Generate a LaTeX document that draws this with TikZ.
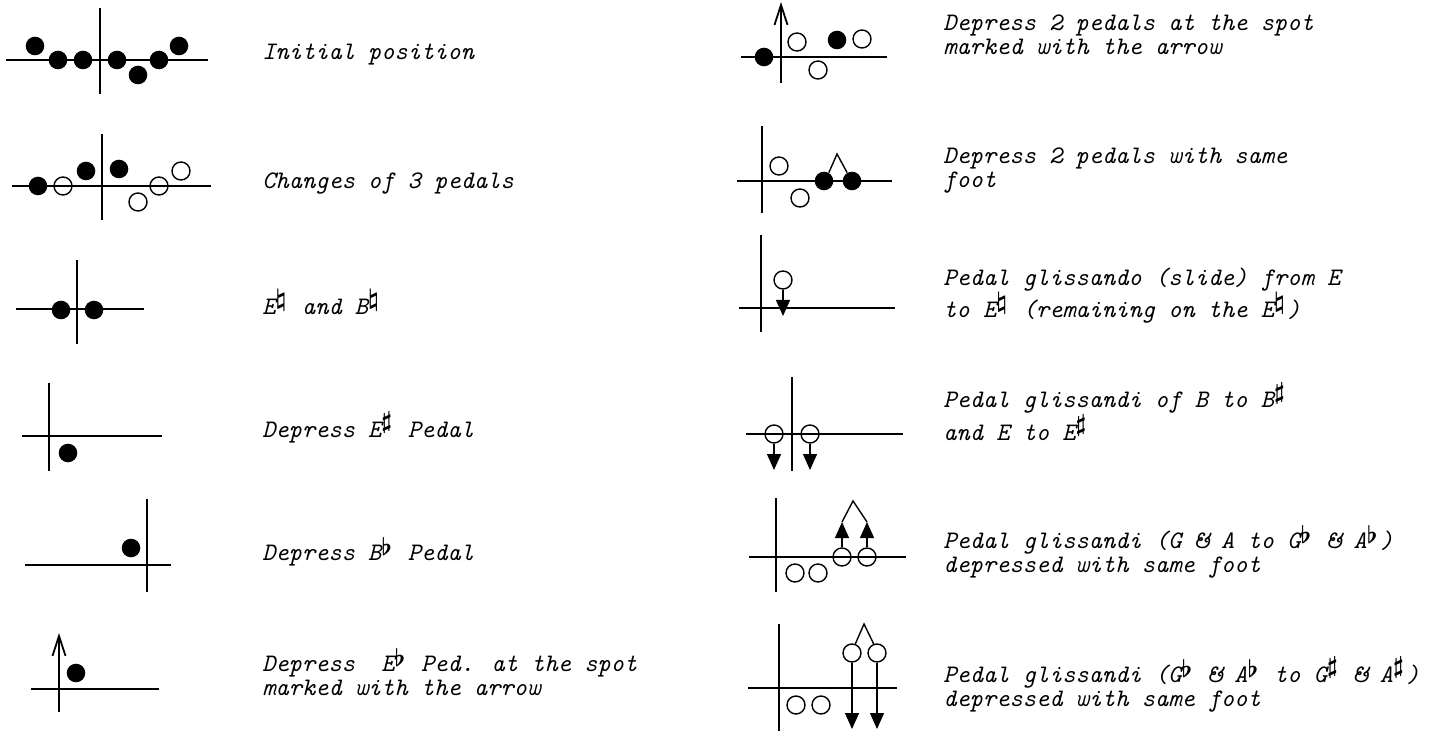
\documentclass[tikz,border=0pt]{standalone}
\usepackage{fontspec}
\usetikzlibrary{arrows.meta}
\newcommand\pacc[2]{\makebox[0.525em][l]{\raisebox{#2}{\fontsize{12}{12}\selectfont\boldmath$#1$}}}
\newcommand\pflat{\pacc{\flat}{0.18em}}
\newcommand\psharp{\pacc{\sharp}{0.32em}}
\newcommand\pnat{\pacc{\natural}{0.32em}}
\tikzset{
  full/.style={circle, fill=black, inner sep=0pt, minimum size=9.3pt},
  hollow/.style={circle, draw=black, line width=0.7pt, inner sep=0pt, minimum size=9pt},
  axis/.style={line width=0.95pt},
  lbl/.style={anchor=base west, inner sep=0pt, align=left, font=\ttfamily\itshape\fontsize{12.6}{12}\selectfont},
  glis/.style={line width=0.7pt, -{Triangle[length=8pt,width=7pt]}},
  spot/.style={axis, -{Straight Barb[length=10pt,width=6.5pt,line width=0.9pt]}},
  caret/.style={line width=0.7pt},
}
\begin{document}
\begin{tikzpicture}[x=0.5pt,y=-0.5pt]
\useasboundingbox (0,0) rectangle (1444,732);
% ---------- left column ----------
% 1 initial position
\draw[axis] (6,60) -- (208,60);
\draw[axis] (100,8) -- (100,94);
\node[full] (a1) at (35,46) {};
\node[full] (a2) at (58,60) {};
\node[full] (a3) at (83,60) {};
\node[full] (a4) at (117,60) {};
\node[full] (a5) at (138,75) {};
\node[full] (a6) at (159,60) {};
\node[full] (a7) at (179,46) {};
\node[lbl] (ta) at (262,60) {Initial position};
% 2 changes of 3 pedals
\draw[axis] (12,186) -- (211,186);
\draw[axis] (102,134) -- (102,220);
\node[full] (b1) at (38,186) {};
\node[hollow] (b2) at (63,186) {};
\node[full] (b3) at (86,171) {};
\node[full] (b4) at (119,169) {};
\node[hollow] (b5) at (138,202) {};
\node[hollow] (b6) at (159,186) {};
\node[hollow] (b7) at (181,171) {};
\node[lbl] (tb) at (262,189) {Changes of 3 pedals};
% 3 E natural and B natural
\draw[axis] (16,309) -- (144,309);
\draw[axis] (77,260) -- (77,344);
\node[full] (c1) at (61,310) {};
\node[full] (c2) at (94,310) {};
\node[lbl] (tc) at (262,315) {E\pnat{} and B\pnat};
% 4 depress E sharp
\draw[axis] (22,436) -- (162,436);
\draw[axis] (49,383) -- (49,471);
\node[full] (d1) at (68,453) {};
\node[lbl] (td) at (262,437) {Depress E\psharp{} Pedal};
% 5 depress B flat
\draw[axis] (25,565) -- (171,565);
\draw[axis] (147,499) -- (147,592);
\node[full] (e1) at (131,548) {};
\node[lbl] (te) at (262,560) {Depress B\pflat{} Pedal};
% 6 depress E flat at arrow
\coordinate (fbot) at (59,712);
\coordinate (ftop) at (59,633);
\draw[axis] (31,689) -- (159,689);
\draw[spot] (fbot) -- (ftop);
\node[full] (f1) at (76,673) {};
\node[lbl] (tf) at (262,695) {Depress\ \ E\pflat{} Ped. at the spot\\marked with the arrow};
% ---------- right column ----------
% R1
\coordinate (gbot) at (781,83);
\coordinate (gtop) at (781,2);
\draw[axis] (741,57) -- (887,57);
\draw[spot] (gbot) -- (gtop);
\node[full] (g1) at (764,57) {};
\node[hollow] (g2) at (797,42) {};
\node[full] (g3) at (837,40) {};
\node[hollow] (g4) at (862,39) {};
\node[hollow] (g5) at (818,70) {};
\node[lbl] (tg) at (943,55) {Depress 2 pedals at the spot\\marked with the arrow};
% R2
\draw[axis] (737,181) -- (892,181);
\draw[axis] (762,126) -- (762,213);
\node[hollow] (h1) at (779,166) {};
\node[hollow] (h2) at (800,198) {};
\node[full] (h3) at (824,181) {};
\node[full] (h4) at (852,181) {};
\coordinate (hapex) at (837,154);
\draw[caret] (h3.60) -- (hapex) -- (h4.120);
\node[lbl] (th) at (943,188) {Depress 2 pedals with same\\foot};
% R3
\draw[axis] (739,308) -- (895,308);
\draw[axis] (761,235) -- (761,332);
\node[hollow] (i1) at (783,280) {};
\coordinate (itip) at (783,316);
\draw[glis] (i1.south) -- (itip);
\node[lbl] (ti) at (943,318) {Pedal glissando (slide) from E\\to E\pnat{} (remaining on the E\pnat)};
% R4
\draw[axis] (746,434) -- (903,434);
\draw[axis] (792,377) -- (792,471);
\node[hollow] (j1) at (774,434) {};
\node[hollow] (j2) at (810,434) {};
\coordinate (jt1) at (774,470);
\coordinate (jt2) at (810,470);
\draw[glis] (j1.south) -- (jt1);
\draw[glis] (j2.south) -- (jt2);
\node[lbl] (tj) at (943,440) {Pedal glissandi of B to B\psharp\\and E to E\psharp};
% R5
\draw[axis] (749,557) -- (906,557);
\draw[axis] (776,498) -- (776,592);
\node[hollow] (k1) at (795,573) {};
\node[hollow] (k2) at (818,573) {};
\node[hollow] (k3) at (842,557) {};
\node[hollow] (k4) at (867,557) {};
\coordinate (kt1) at (842,522);
\coordinate (kt2) at (867,522);
\coordinate (kapex) at (853,501);
\draw[glis] (k3.north) -- (kt1);
\draw[glis] (k4.north) -- (kt2);
\draw[caret] (kt1) -- (kapex) -- (kt2);
\node[lbl] (tk) at (943,572) {Pedal glissandi (G \& A to G\pflat{} \& A\pflat)\\depressed with same foot};
% R6
\draw[axis] (748,688) -- (897,688);
\draw[axis] (779,624) -- (779,731);
\node[hollow] (l1) at (796,705) {};
\node[hollow] (l2) at (821,705) {};
\node[hollow] (l3) at (852,653) {};
\node[hollow] (l4) at (877,653) {};
\coordinate (lt1) at (852,729);
\coordinate (lt2) at (877,729);
\coordinate (lapex) at (864,624);
\draw[glis] (l3.south) -- (lt1);
\draw[glis] (l4.south) -- (lt2);
\draw[caret] (l3.70) -- (lapex) -- (l4.110);
\node[lbl] (tl) at (943,706) {Pedal glissandi (G\pflat{} \& A\pflat{} to G\psharp{} \& A\psharp)\\depressed with same foot};
\end{tikzpicture}
\end{document}
